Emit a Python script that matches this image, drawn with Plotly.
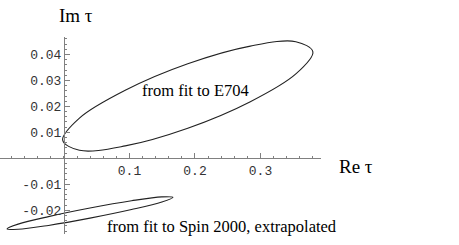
import plotly.graph_objects as go

# Contour of the E704 fit region (Re tau, Im tau)
e704_re = [0.189, 0.0935, 0.0236, -0.002, 0.0236, 0.0935, 0.189, 0.2845, 0.354, 0.380, 0.354, 0.2845, 0.189]
e704_im = [0.0364, 0.0262, 0.0155, 0.0070, 0.0031, 0.0048, 0.0116, 0.0218, 0.0325, 0.0410, 0.0449, 0.0432, 0.0364]

# Contour of the Spin 2000 (extrapolated) fit region
spin_re = [0.0397, -0.0237, -0.070, -0.087, -0.070, -0.0237, 0.0397, 0.1031, 0.1494, 0.1664, 0.1494, 0.1031, 0.0397]
spin_im = [-0.0191, -0.0224, -0.0253, -0.0271, -0.0273, -0.0258, -0.0230, -0.0197, -0.0168, -0.0150, -0.0148, -0.0163, -0.0191]

x_tickvals = [0.1, 0.2, 0.3]
x_ticktext = ["0.1", "0.2", "0.3"]
y_tickvals = [-0.02, -0.01, 0.01, 0.02, 0.03, 0.04]
y_ticktext = ["-0.02", "-0.01", "0.01", "0.02", "0.03", "0.04"]

x_range = [-0.0977, 0.3924]
y_range = [-0.0291, 0.0467]

label_e704 = "from fit to E704"
label_spin = "from fit to Spin 2000, extrapolated"

fig = go.Figure()
for xs, ys in [(e704_re, e704_im), (spin_re, spin_im)]:
    fig.add_trace(go.Scatter(x=xs, y=ys, mode="lines",
                             line=dict(color="#222222", width=1.1, shape="spline", smoothing=1.0),
                             hoverinfo="skip", showlegend=False))

# position of the axes so they cross at the origin
x_axis_pos = (0 - y_range[0]) / (y_range[1] - y_range[0])
y_axis_pos = (0 - x_range[0]) / (x_range[1] - x_range[0])

tickfont = dict(family="Liberation Mono, DejaVu Sans Mono, monospace", size=13, color="#333333")
serif = "Liberation Serif, Times New Roman, serif"

fig.update_layout(
    width=459, height=245,
    margin=dict(l=0, r=138, t=37, b=11, autoexpand=False),
    paper_bgcolor="white", plot_bgcolor="white",
    xaxis=dict(range=x_range, anchor="free", position=x_axis_pos, side="bottom", automargin=False,
               showline=True, linecolor="#808080", linewidth=1,
               showgrid=False, zeroline=False,
               ticks="inside", ticklen=5, tickcolor="#808080", tickwidth=1,
               tickvals=x_tickvals, ticktext=x_ticktext, tickfont=tickfont,
               minor=dict(ticks="inside", ticklen=2.5, tickcolor="#808080", dtick=0.02, tick0=0, showgrid=False)),
    yaxis=dict(range=y_range, anchor="free", position=y_axis_pos, side="left", automargin=False,
               showline=True, linecolor="#808080", linewidth=1,
               showgrid=False, zeroline=False,
               ticks="inside", ticklen=5, tickcolor="#808080", tickwidth=1,
               tickvals=y_tickvals, ticktext=y_ticktext, tickfont=tickfont,
               minor=dict(ticks="inside", ticklen=2.5, tickcolor="#808080", dtick=0.002, tick0=0, showgrid=False)),
    annotations=[
        dict(x=0.2008, y=0.0263, text=label_e704, showarrow=False, xref="x", yref="y",
             xanchor="center", yanchor="middle",
             font=dict(family=serif, size=16.5, color="black")),
        dict(x=0.242, y=-0.0263, text=label_spin, showarrow=False, xref="x", yref="y",
             xanchor="center", yanchor="middle",
             font=dict(family=serif, size=16.5, color="black")),
        dict(x=-0.011, y=(234 - 15) / 197, text="Im τ", showarrow=False, xref="x", yref="paper",
             xanchor="left", yanchor="middle",
             font=dict(family=serif, size=19, color="black")),
        dict(x=0.4458, y=(234 - 166) / 197, text="Re τ", showarrow=False, xref="paper", yref="paper",
             xanchor="center", yanchor="middle",
             font=dict(family=serif, size=19, color="black")),
    ],
)
fig.layout.annotations[3].x = 356 / 321

fig.write_html("out.html", config={"displayModeBar": False},
               post_script="document.body.style.margin='0';")
